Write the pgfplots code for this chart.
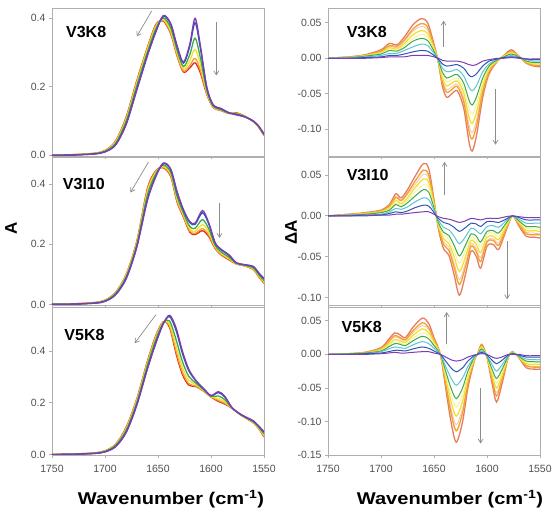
\documentclass[border=0pt]{standalone}
\usepackage{fontspec}
\setmainfont{Liberation Sans}
\usepackage{pgfplots}
\pgfplotsset{compat=1.18}
\usepackage{pgfplotstable}
\usetikzlibrary{arrows.meta}

\definecolor{cpu}{RGB}{125,60,175}
\definecolor{cbl}{RGB}{45,85,185}
\definecolor{ccy}{RGB}{95,195,215}
\definecolor{cgr}{RGB}{60,170,70}
\definecolor{cye}{RGB}{240,225,50}
\definecolor{cor}{RGB}{245,160,45}
\definecolor{crd}{RGB}{225,45,30}
\definecolor{cpk}{RGB}{230,125,95}
\definecolor{paleY}{RGB}{248,238,140}
\definecolor{paleP}{RGB}{242,192,185}
\definecolor{frame}{RGB}{175,175,175}
\definecolor{ticktxt}{RGB}{80,80,80}

% absorbance, V3K8
\pgfplotstableread{
x p b g y o r
1750 0.000 0.000 0.000 0.000 0.000 0.000
1730 0.001 0.001 0.001 0.002 0.002 0.002
1710 0.004 0.004 0.005 0.005 0.006 0.006
1700 0.010 0.010 0.012 0.013 0.014 0.014
1690 0.030 0.031 0.035 0.038 0.041 0.042
1680 0.090 0.092 0.100 0.105 0.110 0.112
1670 0.190 0.193 0.203 0.210 0.215 0.218
1660 0.290 0.293 0.301 0.308 0.313 0.315
1652 0.360 0.362 0.370 0.375 0.380 0.382
1645 0.408 0.406 0.401 0.397 0.394 0.392
1638 0.385 0.382 0.372 0.364 0.358 0.355
1632 0.320 0.317 0.307 0.299 0.293 0.290
1626 0.272 0.269 0.259 0.252 0.246 0.243
1620 0.325 0.318 0.294 0.276 0.262 0.255
1615 0.400 0.387 0.342 0.309 0.283 0.270
1610 0.320 0.312 0.284 0.264 0.248 0.240
1604 0.200 0.198 0.190 0.185 0.180 0.178
1598 0.148 0.147 0.144 0.142 0.141 0.140
1590 0.136 0.135 0.133 0.132 0.131 0.130
1583 0.124 0.124 0.123 0.123 0.122 0.122
1576 0.118 0.119 0.121 0.122 0.123 0.124
1568 0.112 0.112 0.113 0.113 0.114 0.114
1560 0.100 0.100 0.099 0.099 0.098 0.098
1555 0.085 0.085 0.084 0.083 0.082 0.082
1550 0.062 0.062 0.060 0.059 0.058 0.058
}\absA

% absorbance, V3I10
\pgfplotstableread{
x p b g y o r
1750 0.000 0.000 0.000 0.000 0.000 0.000
1730 0.001 0.001 0.001 0.002 0.002 0.002
1710 0.004 0.004 0.005 0.005 0.006 0.006
1700 0.010 0.010 0.012 0.013 0.014 0.014
1690 0.032 0.033 0.036 0.038 0.039 0.040
1680 0.085 0.087 0.092 0.096 0.099 0.100
1670 0.190 0.192 0.199 0.204 0.208 0.210
1660 0.345 0.349 0.363 0.373 0.381 0.385
1652 0.425 0.427 0.434 0.439 0.443 0.445
1645 0.470 0.468 0.463 0.459 0.456 0.454
1638 0.450 0.448 0.439 0.433 0.428 0.425
1632 0.375 0.372 0.359 0.351 0.344 0.340
1626 0.315 0.313 0.304 0.298 0.293 0.290
1620 0.275 0.272 0.259 0.251 0.244 0.240
1615 0.270 0.266 0.253 0.243 0.236 0.232
1608 0.312 0.305 0.282 0.265 0.252 0.245
1602 0.270 0.266 0.250 0.239 0.230 0.225
1596 0.205 0.203 0.196 0.191 0.187 0.185
1590 0.182 0.180 0.173 0.169 0.165 0.163
1583 0.165 0.163 0.157 0.153 0.150 0.148
1576 0.138 0.138 0.136 0.135 0.134 0.134
1568 0.132 0.132 0.130 0.129 0.128 0.128
1560 0.126 0.125 0.121 0.118 0.116 0.115
1555 0.105 0.104 0.099 0.096 0.093 0.092
1550 0.087 0.085 0.079 0.075 0.072 0.070
}\absB

% absorbance, V5K8
\pgfplotstableread{
x p b g y o r
1750 0.000 0.000 0.000 0.000 0.000 0.000
1730 0.001 0.001 0.001 0.002 0.002 0.002
1710 0.004 0.004 0.005 0.005 0.006 0.006
1700 0.010 0.010 0.012 0.013 0.014 0.014
1690 0.030 0.031 0.035 0.037 0.039 0.040
1680 0.085 0.087 0.094 0.099 0.103 0.105
1670 0.190 0.193 0.201 0.208 0.213 0.215
1660 0.330 0.333 0.344 0.351 0.357 0.360
1652 0.430 0.433 0.444 0.451 0.457 0.460
1645 0.505 0.506 0.509 0.511 0.512 0.513
1639 0.538 0.533 0.516 0.504 0.495 0.490
1633 0.490 0.480 0.445 0.420 0.400 0.390
1627 0.400 0.391 0.360 0.337 0.319 0.310
1621 0.330 0.324 0.302 0.287 0.274 0.268
1614 0.285 0.283 0.275 0.269 0.264 0.262
1607 0.255 0.254 0.251 0.248 0.246 0.245
1600 0.228 0.227 0.225 0.224 0.223 0.222
1593 0.243 0.239 0.226 0.216 0.209 0.205
1587 0.225 0.222 0.212 0.204 0.198 0.195
1580 0.180 0.180 0.179 0.179 0.178 0.178
1572 0.155 0.155 0.154 0.154 0.153 0.153
1565 0.140 0.140 0.138 0.137 0.136 0.135
1560 0.130 0.129 0.126 0.124 0.123 0.122
1555 0.110 0.109 0.106 0.103 0.101 0.100
1550 0.088 0.086 0.079 0.074 0.070 0.068
}\absC

% difference, V3K8
\pgfplotstableread{
x pu bl cy gr la ye lb or pk
1750 0.000 0.000 0.000 0.000 0.000 0.000 0.000 0.000 0.000
1730 0.000 0.000 0.001 0.001 0.001 0.001 0.002 0.002 0.002
1715 0.000 0.001 0.002 0.003 0.003 0.004 0.004 0.004 0.005
1700 0.001 0.002 0.004 0.006 0.007 0.008 0.010 0.010 0.012
1692 0.002 0.004 0.007 0.011 0.013 0.015 0.017 0.018 0.021
1685 0.002 0.004 0.007 0.010 0.011 0.013 0.015 0.017 0.019
1678 0.002 0.006 0.011 0.015 0.018 0.021 0.024 0.026 0.030
1670 0.004 0.009 0.016 0.024 0.028 0.033 0.038 0.041 0.047
1662 0.004 0.011 0.020 0.028 0.034 0.039 0.045 0.049 0.056
1656 0.004 0.010 0.018 0.025 0.030 0.035 0.040 0.044 0.050
1650 0.002 0.004 0.007 0.010 0.012 0.014 0.016 0.017 0.020
1646 0.000 -0.001 -0.002 -0.003 -0.003 -0.004 -0.004 -0.004 -0.005
1642 -0.003 -0.008 -0.014 -0.020 -0.024 -0.028 -0.032 -0.035 -0.040
1638 -0.004 -0.011 -0.019 -0.028 -0.033 -0.039 -0.044 -0.048 -0.055
1633 -0.004 -0.010 -0.018 -0.025 -0.030 -0.035 -0.040 -0.044 -0.050
1628 -0.004 -0.009 -0.016 -0.023 -0.028 -0.032 -0.037 -0.040 -0.046
1622 -0.006 -0.014 -0.025 -0.035 -0.042 -0.049 -0.056 -0.061 -0.070
1617 -0.009 -0.024 -0.041 -0.059 -0.071 -0.083 -0.094 -0.103 -0.118
1614 -0.010 -0.026 -0.046 -0.066 -0.079 -0.092 -0.105 -0.114 -0.131
1610 -0.009 -0.022 -0.039 -0.055 -0.066 -0.077 -0.088 -0.096 -0.110
1604 -0.004 -0.011 -0.019 -0.028 -0.033 -0.039 -0.044 -0.048 -0.055
1598 -0.002 -0.004 -0.008 -0.011 -0.013 -0.015 -0.018 -0.019 -0.022
1590 0.000 -0.001 -0.001 -0.002 -0.002 -0.003 -0.003 -0.003 -0.004
1584 0.000 0.001 0.001 0.002 0.002 0.003 0.003 0.003 0.004
1577 0.001 0.002 0.004 0.006 0.007 0.008 0.010 0.010 0.012
1570 0.000 0.001 0.001 0.002 0.002 0.002 0.002 0.003 0.003
1563 -0.001 -0.001 -0.002 -0.004 -0.004 -0.005 -0.006 -0.006 -0.007
1556 -0.001 -0.002 -0.004 -0.006 -0.007 -0.008 -0.009 -0.010 -0.011
1550 -0.001 -0.002 -0.004 -0.006 -0.007 -0.008 -0.010 -0.010 -0.012
}\difA

% difference, V3I10
\pgfplotstableread{
x pu bl cy gr la ye lb or pk
1750 0.000 0.000 0.000 0.000 0.000 0.000 0.000 0.000 0.000
1730 0.000 0.000 0.001 0.001 0.001 0.001 0.002 0.002 0.002
1715 0.000 0.001 0.001 0.002 0.002 0.003 0.003 0.003 0.004
1700 0.001 0.001 0.002 0.004 0.004 0.005 0.006 0.006 0.007
1692 0.001 0.003 0.005 0.007 0.008 0.010 0.011 0.012 0.014
1686 0.002 0.005 0.009 0.014 0.016 0.019 0.022 0.023 0.027
1681 0.002 0.004 0.008 0.011 0.013 0.015 0.018 0.019 0.022
1675 0.003 0.006 0.011 0.016 0.019 0.022 0.026 0.028 0.032
1668 0.004 0.010 0.017 0.024 0.029 0.034 0.038 0.042 0.048
1660 0.005 0.013 0.022 0.032 0.038 0.045 0.051 0.056 0.064
1655 0.005 0.012 0.020 0.029 0.035 0.041 0.046 0.050 0.058
1650 0.002 0.004 0.007 0.010 0.012 0.014 0.016 0.017 0.020
1646 -0.001 -0.003 -0.005 -0.008 -0.009 -0.011 -0.012 -0.013 -0.015
1641 -0.003 -0.008 -0.014 -0.020 -0.024 -0.028 -0.032 -0.035 -0.040
1636 -0.004 -0.010 -0.017 -0.024 -0.029 -0.034 -0.038 -0.042 -0.048
1631 -0.006 -0.014 -0.025 -0.036 -0.043 -0.050 -0.058 -0.063 -0.072
1626 -0.008 -0.019 -0.034 -0.049 -0.058 -0.068 -0.078 -0.084 -0.097
1620 -0.006 -0.014 -0.025 -0.035 -0.042 -0.049 -0.056 -0.061 -0.070
1615 -0.003 -0.009 -0.015 -0.022 -0.026 -0.030 -0.034 -0.037 -0.043
1610 -0.004 -0.010 -0.018 -0.025 -0.030 -0.035 -0.040 -0.044 -0.050
1606 -0.005 -0.013 -0.022 -0.032 -0.038 -0.045 -0.051 -0.056 -0.064
1600 -0.003 -0.007 -0.013 -0.019 -0.022 -0.026 -0.030 -0.032 -0.037
1594 -0.003 -0.007 -0.012 -0.018 -0.021 -0.025 -0.028 -0.030 -0.035
1589 -0.003 -0.008 -0.014 -0.021 -0.025 -0.029 -0.033 -0.036 -0.041
1582 -0.001 -0.004 -0.006 -0.009 -0.011 -0.013 -0.014 -0.016 -0.018
1576 0.000 0.000 0.000 0.000 0.000 0.000 0.000 0.000 0.000
1570 -0.001 -0.002 -0.004 -0.006 -0.007 -0.008 -0.010 -0.010 -0.012
1563 -0.002 -0.005 -0.009 -0.013 -0.015 -0.018 -0.020 -0.022 -0.025
1556 -0.002 -0.005 -0.009 -0.013 -0.016 -0.018 -0.021 -0.023 -0.026
1550 -0.002 -0.005 -0.009 -0.014 -0.016 -0.019 -0.022 -0.023 -0.027
}\difB

% difference, V5K8
\pgfplotstableread{
x pu bl cy gr la ye lb or pk
1750 0.000 0.000 0.000 0.000 0.000 0.000 0.000 0.000 0.000
1730 0.000 0.000 0.000 0.001 0.001 0.001 0.001 0.001 0.001
1715 0.000 0.001 0.001 0.002 0.002 0.002 0.002 0.003 0.003
1700 0.001 0.002 0.004 0.005 0.006 0.007 0.008 0.009 0.010
1693 0.002 0.004 0.008 0.011 0.013 0.015 0.018 0.019 0.022
1687 0.003 0.006 0.011 0.016 0.019 0.022 0.026 0.028 0.032
1682 0.002 0.006 0.010 0.015 0.017 0.020 0.023 0.025 0.029
1677 0.002 0.005 0.009 0.013 0.015 0.018 0.020 0.022 0.025
1670 0.003 0.008 0.014 0.020 0.024 0.028 0.032 0.035 0.040
1661 0.004 0.011 0.019 0.027 0.032 0.038 0.043 0.047 0.054
1655 0.004 0.009 0.016 0.023 0.028 0.032 0.037 0.040 0.046
1650 0.002 0.005 0.009 0.013 0.015 0.018 0.020 0.022 0.025
1644 0.000 0.000 0.000 0.000 0.000 0.000 0.000 0.000 0.000
1639 -0.004 -0.010 -0.018 -0.025 -0.030 -0.035 -0.040 -0.044 -0.050
1634 -0.008 -0.020 -0.035 -0.050 -0.060 -0.070 -0.080 -0.087 -0.100
1629 -0.010 -0.026 -0.046 -0.066 -0.079 -0.092 -0.105 -0.114 -0.131
1623 -0.008 -0.020 -0.035 -0.050 -0.060 -0.070 -0.080 -0.087 -0.100
1618 -0.004 -0.010 -0.018 -0.025 -0.030 -0.035 -0.040 -0.044 -0.050
1612 -0.001 -0.002 -0.004 -0.005 -0.006 -0.007 -0.008 -0.009 -0.010
1609 0.000 0.000 0.000 0.000 0.000 0.000 0.000 0.000 0.000
1605 0.001 0.003 0.005 0.008 0.009 0.011 0.012 0.013 0.015
1600 0.000 -0.001 -0.002 -0.003 -0.003 -0.004 -0.004 -0.004 -0.005
1595 -0.004 -0.009 -0.016 -0.023 -0.027 -0.032 -0.036 -0.039 -0.045
1591 -0.006 -0.014 -0.025 -0.036 -0.043 -0.050 -0.057 -0.062 -0.071
1586 -0.004 -0.009 -0.016 -0.023 -0.027 -0.032 -0.036 -0.039 -0.045
1580 0.000 -0.001 -0.002 -0.003 -0.003 -0.004 -0.004 -0.004 -0.005
1576 0.000 0.001 0.001 0.002 0.002 0.003 0.003 0.003 0.004
1570 0.000 -0.001 -0.002 -0.003 -0.003 -0.004 -0.004 -0.004 -0.005
1563 -0.002 -0.004 -0.007 -0.010 -0.012 -0.014 -0.016 -0.017 -0.020
1556 -0.002 -0.004 -0.008 -0.011 -0.013 -0.015 -0.018 -0.019 -0.022
1550 -0.002 -0.004 -0.008 -0.011 -0.013 -0.015 -0.018 -0.019 -0.022
}\difC

\pgfplotsset{
  panel/.style={
    scale only axis, width=212pt, height=148pt,
    anchor=south west,
    xmin=1550, xmax=1750, x dir=reverse,
    xtick={1550,1600,...,1750},
    /pgf/number format/1000 sep={},
    xticklabel style={yshift=-4pt},
    xtick pos=bottom, ytick pos=left,
    tick align=outside, major tick length=3pt,
    axis line style={frame, line width=0.9pt},
    tick style={frame, line width=0.8pt},
    tick label style={font=\fontsize{10.5}{11}\selectfont, text=ticktxt},
    /pgf/number format/assume math mode=true,
    every axis plot/.append style={smooth, tension=0.5, line width=1.3pt, no marks},
  },
  abspanel/.style={panel,
    ytick={0,0.2,0.4},
    yticklabel style={/pgf/number format/.cd, fixed, fixed zerofill, precision=1},
    ymin=-0.002},
  difpanel/.style={panel,
    ytick={-0.15,-0.10,-0.05,0,0.05},
    yticklabel style={/pgf/number format/.cd, fixed, fixed zerofill, precision=2}},
  nolab/.style={xticklabels={}},
}
\tikzset{
  tag/.style={anchor=west, font=\bfseries\fontsize{16}{16}\selectfont},
  arr/.style={-{Straight Barb[length=4pt,width=5pt]}, draw=black!45, line width=0.7pt},
}

\newcommand{\absplots}[1]{%
  \addplot[crd] table[y=r]{#1};
  \addplot[cor] table[y=o]{#1};
  \addplot[cye] table[y=y]{#1};
  \addplot[cgr] table[y=g]{#1};
  \addplot[cbl] table[y=b]{#1};
  \addplot[cpu] table[y=p]{#1};
}
\newcommand{\difplots}[1]{%
  \addplot[cpk] table[y=pk]{#1};
  \addplot[paleP, line width=0.8pt] table[y=lb]{#1};
  \addplot[cor] table[y=or]{#1};
  \addplot[cye] table[y=ye]{#1};
  \addplot[paleY, line width=0.8pt] table[y=la]{#1};
  \addplot[cgr, line width=1pt] table[y=gr]{#1};
  \addplot[ccy, line width=1pt] table[y=cy]{#1};
  \addplot[cbl, line width=1pt] table[y=bl]{#1};
  \addplot[cpu, line width=1pt] table[y=pu]{#1};
}

\begin{document}
\begin{tikzpicture}
\path[use as bounding box] (0pt,0pt) rectangle (557pt,508pt);

% left column
\begin{axis}[abspanel, nolab, at={(52pt,352pt)}, ymax=0.43]
  \absplots{\absA}
  \node[tag] at (rel axis cs:0.05,0.84) {V3K8};
  \draw[arr] (axis cs:1656,0.421) -- (axis cs:1670,0.347);
  \draw[arr] (axis cs:1595,0.388) -- (axis cs:1595,0.233);
\end{axis}
\begin{axis}[abspanel, nolab, at={(52pt,203pt)}, ymax=0.49]
  \absplots{\absB}
  \node[tag] at (rel axis cs:0.035,0.82) {V3I10};
  \draw[arr] (axis cs:1659,0.473) -- (axis cs:1676,0.372);
  \draw[arr] (axis cs:1592,0.338) -- (axis cs:1592,0.221);
\end{axis}
\begin{axis}[abspanel, at={(52pt,53pt)}, ymax=0.57]
  \absplots{\absC}
  \node[tag] at (rel axis cs:0.042,0.81) {V5K8};
  \draw[arr] (axis cs:1652,0.54) -- (axis cs:1672,0.43);
\end{axis}

% right column
\begin{axis}[difpanel, nolab, at={(328pt,352pt)}, ymin=-0.138, ymax=0.071]
  \difplots{\difA}
  \node[tag] at (rel axis cs:0.072,0.84) {V3K8};
  \draw[arr] (axis cs:1641,0.016) -- (axis cs:1641,0.053);
  \draw[arr] (axis cs:1592,-0.043) -- (axis cs:1592,-0.122);
\end{axis}
\begin{axis}[difpanel, nolab, at={(328pt,203pt)}, ymin=-0.109, ymax=0.072]
  \difplots{\difB}
  \node[tag] at (rel axis cs:0.072,0.88) {V3I10};
  \draw[arr] (axis cs:1640,0.025) -- (axis cs:1640,0.066);
  \draw[arr] (axis cs:1581,-0.031) -- (axis cs:1581,-0.102);
\end{axis}
\begin{axis}[difpanel, at={(328pt,53pt)}, ymin=-0.15, ymax=0.0706]
  \difplots{\difC}
  \node[tag] at (rel axis cs:0.048,0.867) {V5K8};
  \draw[arr] (axis cs:1638,0.015) -- (axis cs:1638,0.063);
  \draw[arr] (axis cs:1606,-0.05) -- (axis cs:1606,-0.133);
\end{axis}

% axis titles
\node[font=\bfseries\fontsize{17}{17}\selectfont, rotate=90] at (11pt,280pt) {A};
\node[font=\bfseries\fontsize{17}{17}\selectfont, rotate=90] at (291pt,276pt) {ΔA};
\node[font=\bfseries\fontsize{17}{18}\selectfont] at (171pt,9pt)
  {\scalebox{1.18}[1]{Wavenumber (cm\textsuperscript{-1})}};
\node[font=\bfseries\fontsize{17}{18}\selectfont] at (450pt,9pt)
  {\scalebox{1.18}[1]{Wavenumber (cm\textsuperscript{-1})}};
\end{tikzpicture}
\end{document}
